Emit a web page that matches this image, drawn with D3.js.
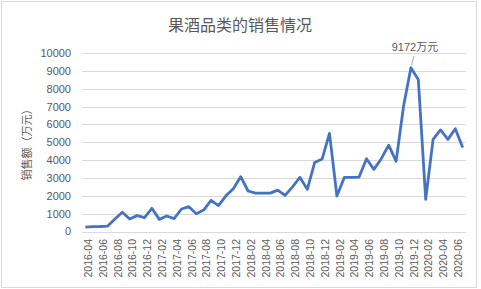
<!DOCTYPE html>
<html>
<head>
<meta charset="utf-8">
<title>果酒品类的销售情况</title>
<style>
body { margin: 0; background: #fff; }
text { font-family: "Liberation Sans", "Noto Sans CJK SC", sans-serif; fill: #595959; }
.cjk { font-family: "Noto Sans CJK SC", sans-serif; }
.grid line { stroke: #d9d9d9; stroke-width: 1px; }
path.sales { fill: none; stroke: #4472c4; stroke-width: 2.8px; stroke-linejoin: round; }
</style>
</head>
<body>
<script src="https://cdn.jsdelivr.net/npm/d3@7/dist/d3.min.js"></script>
<script>
// months on the category axis
var months = [
  "2016-04","2016-05","2016-06","2016-07","2016-08","2016-09","2016-10","2016-11","2016-12",
  "2017-01","2017-02","2017-03","2017-04","2017-05","2017-06","2017-07","2017-08","2017-09","2017-10","2017-11","2017-12",
  "2018-01","2018-02","2018-03","2018-04","2018-05","2018-06","2018-07","2018-08","2018-09","2018-10","2018-11","2018-12",
  "2019-01","2019-02","2019-03","2019-04","2019-05","2019-06","2019-07","2019-08","2019-09","2019-10","2019-11","2019-12",
  "2020-01","2020-02","2020-03","2020-04","2020-05","2020-06","2020-07"
];

// sales, 万元
var sales = [
  250, 270, 280, 300, 700, 1075, 700, 890, 775,
  1300, 680, 870, 720, 1260, 1390, 1000, 1200, 1750, 1450, 2000, 2400,
  3070, 2270, 2150, 2150, 2150, 2320, 2020, 2500, 3040, 2360, 3870, 4060,
  5500, 1990, 3030, 3030, 3050, 4080, 3480, 4080, 4840, 3930, 7000, 9172,
  8520, 1800, 5160, 5690, 5160, 5760, 4710
];

var yTicks = [0, 1000, 2000, 3000, 4000, 5000, 6000, 7000, 8000, 9000, 10000];
var peakLabel = "9172万元";

var width = 481, height = 289;

var svg = d3.select("body").append("svg")
  .attr("width", width)
  .attr("height", height);

// chart area frame
svg.append("rect")
  .attr("x", 1.5).attr("y", 1.5)
  .attr("width", 475).attr("height", 286)
  .attr("fill", "#fff")
  .attr("stroke", "#d9d9d9");

var x = d3.scalePoint()
  .domain(months)
  .range([81.6, 466.4])
  .padding(0.5);

var y = d3.scaleLinear()
  .domain([0, 10000])
  .range([231.5, 53]);

// horizontal gridlines
svg.append("g")
  .attr("class", "grid")
  .selectAll("line")
  .data(yTicks)
  .enter().append("line")
  .attr("x1", 82)
  .attr("x2", 466)
  .attr("y1", function(d) { return Math.round(y(d)) + 0.5; })
  .attr("y2", function(d) { return Math.round(y(d)) + 0.5; });

// y tick labels
svg.append("g")
  .selectAll("text")
  .data(yTicks)
  .enter().append("text")
  .attr("x", 71)
  .attr("y", function(d) { return y(d); })
  .attr("dy", "0.36em")
  .attr("text-anchor", "end")
  .style("font-size", "11px")
  .text(function(d) { return d; });

// x tick labels, every second month
svg.append("g")
  .selectAll("text")
  .data(months.filter(function(d, i) { return i % 2 === 0; }))
  .enter().append("text")
  .attr("transform", function(d) { return "translate(" + (x(d) + 3) + ",239) rotate(-90)"; })
  .attr("dy", "0.36em")
  .attr("text-anchor", "end")
  .style("font-size", "10.5px")
  .text(function(d) { return d; });

// sales line
var line = d3.line()
  .x(function(d, i) { return x(months[i]); })
  .y(function(d) { return y(d); });

svg.append("path")
  .datum(sales)
  .attr("class", "sales")
  .attr("d", line);

// peak annotation
var peakIdx = sales.indexOf(d3.max(sales));
var px = x(months[peakIdx]), py = y(sales[peakIdx]);
svg.append("line")
  .attr("x1", px + 3).attr("y1", 56)
  .attr("x2", px + 0.5).attr("y2", py - 2)
  .attr("stroke", "#a6a6a6")
  .attr("stroke-width", 1);
svg.append("text")
  .attr("x", px + 4)
  .attr("y", 51)
  .attr("text-anchor", "middle")
  .style("font-size", "11px")
  .text(peakLabel);

// title
svg.append("text")
  .attr("class", "cjk")
  .attr("x", 240)
  .attr("y", 31)
  .attr("text-anchor", "middle")
  .style("font-size", "16px")
  .text("果酒品类的销售情况");

// y axis title
svg.append("text")
  .attr("class", "cjk")
  .attr("transform", "translate(27,142) rotate(-90)")
  .attr("dy", "0.36em")
  .attr("text-anchor", "middle")
  .style("font-size", "11px")
  .text("销售额（万元）");
</script>
</body>
</html>
